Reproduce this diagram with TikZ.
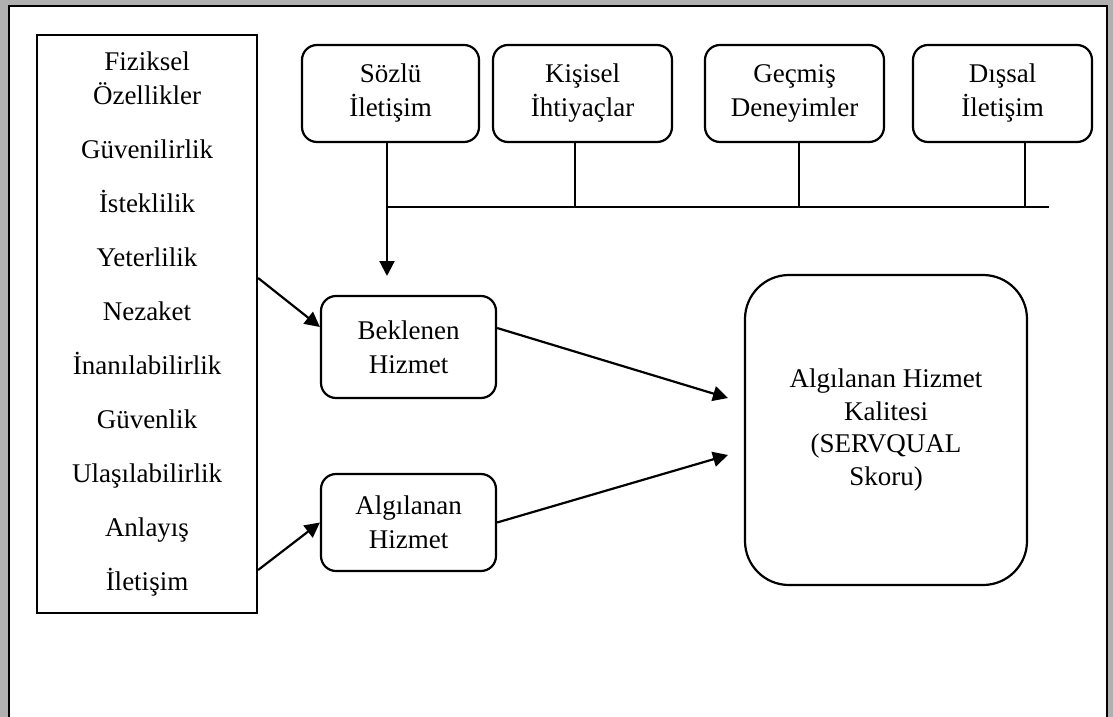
\documentclass[tikz,border=0pt]{standalone}
\usepackage{fontspec}
\setmainfont{Liberation Serif}
\usetikzlibrary{arrows.meta}
\begin{document}
\begin{tikzpicture}[x=1pt,y=-1pt,
  txt/.style={font=\fontsize{27}{34}\selectfont, align=center, inner sep=0pt},
  plainbox/.style={txt, draw, line width=2.2pt},
  roundbox/.style={txt, draw, line width=2.2pt, rounded corners=15pt},
  bigbox/.style={txt, draw, line width=2.2pt, rounded corners=44pt, font=\fontsize{27}{32.5}\selectfont},
  arr/.style={line width=2.2pt, -{Triangle[length=15pt,width=15pt]}},
  thinline/.style={line width=1.1pt}
]
% page with a grey shadow and an open black frame
\useasboundingbox (0,0) rectangle (1113,717);
\fill[gray!62] (0,0) rectangle (1113,717);
\fill[white] (9,6) rectangle (1107,717);
\draw[line width=2.5pt] (9,717) -- (9,6) -- (1107,6) -- (1107,717);

% list of service quality dimensions
\node[plainbox, minimum width=220pt, minimum height=578pt] (lb) at (147,324)
  {Fiziksel\\Özellikler\\[20pt]Güvenilirlik\\[20pt]İsteklilik\\[20pt]Yeterlilik\\[20pt]Nezaket\\[20pt]İnanılabilirlik\\[20pt]Güvenlik\\[20pt]Ulaşılabilirlik\\[20pt]Anlayış\\[20pt]İletişim};

% expectation sources
\node[roundbox, minimum width=177pt, minimum height=97pt] (soz) at (390.5,93.5) {Sözlü\\İletişim};
\node[roundbox, minimum width=179pt, minimum height=97pt] (kis) at (582.5,93.5) {Kişisel\\İhtiyaçlar};
\node[roundbox, minimum width=179pt, minimum height=97pt] (gec) at (794.5,93.5) {Geçmiş\\Deneyimler};
\node[roundbox, minimum width=179pt, minimum height=97pt] (dis) at (1002.5,93.5) {Dışsal\\İletişim};

% expected and perceived service
\node[roundbox, minimum width=175pt, minimum height=102pt] (bek) at (408.5,347) {Beklenen\\Hizmet};
\node[roundbox, minimum width=175pt, minimum height=97pt] (alg) at (408.5,522.5) {Algılanan\\Hizmet};

% perceived service quality
\node[bigbox, minimum width=282pt, minimum height=310pt] (kal) at (886,430)
  {Algılanan Hizmet\\Kalitesi\\(SERVQUAL\\Skoru)};

% collecting line below the source boxes
\coordinate (sozB) at (387,142);
\coordinate (sozTip) at (387,276);
\coordinate (busL) at (387,207);
\coordinate (busR) at (1049,207);
\coordinate (kisB) at (575,142);
\coordinate (gecB) at (799,142);
\coordinate (disB) at (1025,142);
\draw[line width=1.3pt] (busL) -- (busR);
\draw[thinline] (kisB) -- (kisB |- busR);
\draw[thinline] (gecB) -- (gecB |- busR);
\draw[thinline] (disB) -- (disB |- busR);
\draw[arr] (sozB) -- (sozTip);

% dimensions feed both services
\draw[arr] ([yshift=46pt]lb.east) -- ([yshift=20pt]bek.west);
\draw[arr] ([yshift=-246pt]lb.east) -- (alg.west);

% both services feed the quality score
\coordinate (inA) at (728,398);
\coordinate (inB) at (728,455);
\draw[arr] ([yshift=19pt]bek.east) -- (inA);
\draw[arr] (alg.east) -- (inB);
\end{tikzpicture}
\end{document}
